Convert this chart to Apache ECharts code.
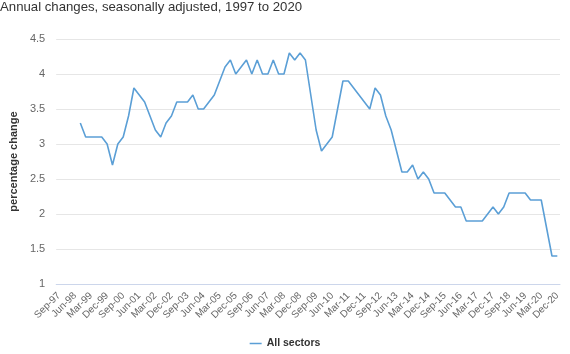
<!DOCTYPE html>
<html>
<head>
<meta charset="utf-8">
<script src="https://cdn.jsdelivr.net/npm/echarts@6/dist/echarts.min.js"></script>
<style>
html,body{margin:0;padding:0;background:#fff;}
#chart{width:570px;height:354px;}
</style>
</head>
<body>
<div id="chart"></div>
<script>
const titleText = 'Annual changes, seasonally adjusted, 1997 to 2020';
const yAxisTitle = 'percentage change';
const seriesName = 'All sectors';
const categories = [
 'Sep-97','Dec-97',
 'Mar-98','Jun-98','Sep-98','Dec-98',
 'Mar-99','Jun-99','Sep-99','Dec-99',
 'Mar-00','Jun-00','Sep-00','Dec-00',
 'Mar-01','Jun-01','Sep-01','Dec-01',
 'Mar-02','Jun-02','Sep-02','Dec-02',
 'Mar-03','Jun-03','Sep-03','Dec-03',
 'Mar-04','Jun-04','Sep-04','Dec-04',
 'Mar-05','Jun-05','Sep-05','Dec-05',
 'Mar-06','Jun-06','Sep-06','Dec-06',
 'Mar-07','Jun-07','Sep-07','Dec-07',
 'Mar-08','Jun-08','Sep-08','Dec-08',
 'Mar-09','Jun-09','Sep-09','Dec-09',
 'Mar-10','Jun-10','Sep-10','Dec-10',
 'Mar-11','Jun-11','Sep-11','Dec-11',
 'Mar-12','Jun-12','Sep-12','Dec-12',
 'Mar-13','Jun-13','Sep-13','Dec-13',
 'Mar-14','Jun-14','Sep-14','Dec-14',
 'Mar-15','Jun-15','Sep-15','Dec-15',
 'Mar-16','Jun-16','Sep-16','Dec-16',
 'Mar-17','Jun-17','Sep-17','Dec-17',
 'Mar-18','Jun-18','Sep-18','Dec-18',
 'Mar-19','Jun-19','Sep-19','Dec-19',
 'Mar-20','Jun-20','Sep-20','Dec-20'
];
const values = [
 null,null,null,null,
 3.3,3.1,3.1,3.1,3.1,3.0,2.7,3.0,3.1,3.4,
 3.8,3.7,3.6,3.4,3.2,3.1,3.3,3.4,3.6,3.6,
 3.6,3.7,3.5,3.5,3.6,3.7,3.9,4.1,4.2,4.0,
 4.1,4.2,4.0,4.2,4.0,4.0,4.2,4.0,4.0,4.3,
 4.2,4.3,4.2,3.7,3.2,2.9,3.0,3.1,3.5,3.9,
 3.9,3.8,3.7,3.6,3.5,3.8,3.7,3.4,3.2,2.9,
 2.6,2.6,2.7,2.5,2.6,2.5,2.3,2.3,2.3,2.2,
 2.1,2.1,1.9,1.9,1.9,1.9,2.0,2.1,2.0,2.1,
 2.3,2.3,2.3,2.3,2.2,2.2,2.2,1.8,1.4,1.4
];
const yMin = 1, yMax = 4.5, yStep = 0.5;

const chart = echarts.init(document.getElementById('chart'), null, {renderer:'canvas'});
chart.setOption({
  animation:false,
  backgroundColor:'#fff',
  textStyle:{fontFamily:'Liberation Sans, Arial, sans-serif'},
  title:{
    text:titleText, left:-5, top:-4,
    textStyle:{fontSize:13.2, fontWeight:'normal', color:'#333', fontFamily:'Liberation Sans, Arial, sans-serif'}
  },
  legend:{
    bottom:0, left:'center',
    icon:'path://M0,0 L16,0 L16,2 L0,2 Z',
    itemWidth:12, itemHeight:2, itemGap:5,
    textStyle:{fontSize:10.5, fontWeight:'bold', color:'#333'},
    data:[seriesName]
  },
  grid:{left:48, right:10, top:39, bottom:70, containLabel:false},
  xAxis:{
    type:'category', data:categories, boundaryGap:true,
    axisLine:{lineStyle:{color:'#ccd6eb'}},
    axisTick:{show:false},
    axisLabel:{interval:2, rotate:45, fontSize:10, color:'#666', margin:10}
  },
  yAxis:{
    type:'value', min:yMin, max:yMax, interval:yStep,
    name:yAxisTitle, nameLocation:'middle', nameGap:32,
    nameTextStyle:{fontSize:11, fontWeight:'bold', color:'#333'},
    axisLine:{show:false}, axisTick:{show:false},
    splitLine:{lineStyle:{color:'#e6e6e6'}},
    axisLabel:{fontSize:11, color:'#666', margin:11}
  },
  series:[{
    name:seriesName, type:'line', data:values,
    showSymbol:false, connectNulls:false,
    lineStyle:{width:1.6, color:'#5b9fd6'},
    itemStyle:{color:'#5b9fd6'}
  }]
});
</script>
</body>
</html>
